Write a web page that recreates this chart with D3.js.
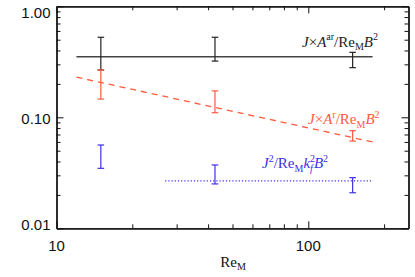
<!DOCTYPE html>
<html>
<head>
<meta charset="utf-8">
<script src="https://cdn.jsdelivr.net/npm/d3@7"></script>
<style>
  body { margin: 0; background: #fff; }
  svg { display: block; }
  .tick-label { font-family: "Liberation Sans", Arial, sans-serif; font-size: 15px; fill: #111; }
  .ann { font-family: "Liberation Serif", "Times New Roman", serif; font-size: 15px; }
</style>
</head>
<body>
<div id="chart"></div>
<script>
// Re_M positions of the error bars
const reM = [15, 42.6, 150];

// J x A^ar / Re_M B^2 (black)
const arLow = [0.267, 0.321, 0.280];
const arHigh = [0.526, 0.526, 0.385];
const arLineRe = [12, 180];
const arLineVal = [0.351, 0.351];

// J x A^r / Re_M B^2 (red)
const rLow = [0.146, 0.110, 0.0611];
const rHigh = [0.267, 0.173, 0.0757];
const rLineRe = [12, 180];
const rLineVal = [0.23, 0.06];

// J^2 / Re_M kf^2 B^2 (blue)
const kLow = [0.0347, 0.0251, 0.0209];
const kHigh = [0.0563, 0.0372, 0.0286];
const kLineRe = [27, 180];
const kLineVal = [0.0268, 0.0268];

// ticks
const xMajor = [10, 100];
const xMinor = [20, 30, 40, 50, 60, 70, 80, 90, 200];
const yMajor = [0.01, 0.1, 1];
const yMinor = [0.02, 0.03, 0.04, 0.05, 0.06, 0.07, 0.08, 0.09,
                0.2, 0.3, 0.4, 0.5, 0.6, 0.7, 0.8, 0.9];
const yLabels = ['0.01', '0.10', '1.00'];

const width = 415;
const height = 277;
const margin = { top: 6.3, right: 6.5, bottom: 48.7, left: 56.5 };
const iw = width - margin.left - margin.right;
const ih = height - margin.top - margin.bottom;

const black = '#222';
const red = '#ff5a3c';
const blue = '#3f2fe6';

const svg = d3.select('#chart')
  .append('svg')
  .attr('width', width)
  .attr('height', height);

const g = svg.append('g')
  .attr('transform', `translate(${margin.left}, ${margin.top})`);

const x = d3.scaleLog().domain([10, 250]).range([0, iw]);
const y = d3.scaleLog().domain([0.01, 1]).range([ih, 0]);

// Axes: inward ticks on all four sides, labels only left and bottom
function styleAxis(sel) {
  sel.select('.domain').attr('stroke', '#111').attr('stroke-width', 1.3);
  sel.selectAll('.tick line').attr('stroke', '#111').attr('stroke-width', 1);
  sel.selectAll('.tick text').remove();
}

g.append('g').attr('transform', `translate(0, ${ih})`)
  .call(d3.axisBottom(x).tickValues(xMajor).tickSize(-7).tickSizeOuter(0)).call(styleAxis);
g.append('g').attr('transform', `translate(0, ${ih})`)
  .call(d3.axisBottom(x).tickValues(xMinor).tickSize(-4).tickSizeOuter(0)).call(styleAxis);
g.append('g')
  .call(d3.axisTop(x).tickValues(xMajor).tickSize(-7).tickSizeOuter(0)).call(styleAxis);
g.append('g')
  .call(d3.axisTop(x).tickValues(xMinor).tickSize(-4).tickSizeOuter(0)).call(styleAxis);
g.append('g')
  .call(d3.axisLeft(y).tickValues(yMajor).tickSize(-7).tickSizeOuter(0)).call(styleAxis);
g.append('g')
  .call(d3.axisLeft(y).tickValues(yMinor).tickSize(-4).tickSizeOuter(0)).call(styleAxis);
g.append('g').attr('transform', `translate(${iw}, 0)`)
  .call(d3.axisRight(y).tickValues(yMajor).tickSize(-7).tickSizeOuter(0)).call(styleAxis);
g.append('g').attr('transform', `translate(${iw}, 0)`)
  .call(d3.axisRight(y).tickValues(yMinor).tickSize(-4).tickSizeOuter(0)).call(styleAxis);

// Y tick labels (top and bottom ones nudged inside like the original)
const yShift = [-4, 1, 6.7];
g.selectAll('.ylab')
  .data(yMajor)
  .enter().append('text')
  .attr('class', 'tick-label')
  .attr('x', -6)
  .attr('y', (d, i) => y(d) + yShift[i])
  .attr('dy', '0.35em')
  .attr('text-anchor', 'end')
  .text((d, i) => yLabels[i]);

// X tick labels
g.selectAll('.xlab')
  .data(xMajor)
  .enter().append('text')
  .attr('class', 'tick-label')
  .attr('x', d => x(d))
  .attr('y', ih + 17)
  .attr('dy', '0.35em')
  .attr('text-anchor', 'middle')
  .text(d => d);

// X axis title
const xt = g.append('text')
  .attr('class', 'ann')
  .attr('x', iw / 2 + 0.5)
  .attr('y', ih + 39)
  .attr('text-anchor', 'middle')
  .attr('fill', '#111');
xt.append('tspan').text('Re');
xt.append('tspan').attr('dy', 3).style('font-size', '10px').text('M');

// Fit lines
function fitLine(res, vals, color, dash) {
  const pts = res.map((r, i) => [r, vals[i]]);
  g.append('path')
    .datum(pts)
    .attr('d', d3.line().x(d => x(d[0])).y(d => y(d[1])))
    .attr('fill', 'none')
    .attr('stroke', color)
    .attr('stroke-width', 1.3)
    .attr('stroke-dasharray', dash);
}
fitLine(arLineRe, arLineVal, '#444', null);
fitLine(rLineRe, rLineVal, red, '6,5');
fitLine(kLineRe, kLineVal, blue, '1.2,2');

// Error bars
function errorBars(lows, highs, color) {
  const data = reM.map((r, i) => ({ r, lo: lows[i], hi: highs[i] }));
  const eb = g.append('g');
  eb.selectAll('.bar')
    .data(data)
    .enter().append('line')
    .attr('x1', d => x(d.r)).attr('x2', d => x(d.r))
    .attr('y1', d => y(d.lo)).attr('y2', d => y(d.hi))
    .attr('stroke', color).attr('stroke-width', 1.2);
  ['lo', 'hi'].forEach(k => {
    eb.selectAll('.cap-' + k)
      .data(data)
      .enter().append('line')
      .attr('x1', d => x(d.r) - 3.3).attr('x2', d => x(d.r) + 3.3)
      .attr('y1', d => y(d[k])).attr('y2', d => y(d[k]))
      .attr('stroke', color).attr('stroke-width', 1.2);
  });
}
errorBars(arLow, arHigh, black);
errorBars(rLow, rHigh, red);
errorBars(kLow, kHigh, blue);

// Annotations
function label(px, py, color, parts) {
  const t = svg.append('text')
    .attr('class', 'ann')
    .attr('x', px).attr('y', py)
    .attr('fill', color);
  let shift = 0;
  parts.forEach(p => {
    const s = t.append('tspan').text(p.t);
    if (p.i) s.style('font-style', 'italic');
    if (p.dx) s.attr('dx', p.dx);
    const want = p.sup ? -6.5 : p.sub ? 3.5 : 0;
    if (want !== shift) { s.attr('dy', want - shift); shift = want; }
    if (p.sup || p.sub) s.style('font-size', '10px');
  });
}
label(302, 46.5, black, [
  { t: 'J', i: 1 }, { t: '×' }, { t: 'A', i: 1 }, { t: 'ar', sup: 1 },
  { t: '/Re' }, { t: 'M', sub: 1 }, { t: 'B', i: 1 }, { t: '2', sup: 1 }
]);
label(308, 124, red, [
  { t: 'J', i: 1 }, { t: '×' }, { t: 'A', i: 1 }, { t: 'r', sup: 1 },
  { t: '/Re' }, { t: 'M', sub: 1 }, { t: 'B', i: 1 }, { t: '2', sup: 1 }
]);
label(262, 168, blue, [
  { t: 'J', i: 1 }, { t: '2', sup: 1 },
  { t: '/Re' }, { t: 'M', sub: 1 }, { t: 'k', i: 1 }, { t: '2', sup: 1 },
  { t: 'f', sub: 1, i: 1, dx: -5 }, { t: 'B', i: 1, dx: 1 }, { t: '2', sup: 1 }
]);
</script>
</body>
</html>
